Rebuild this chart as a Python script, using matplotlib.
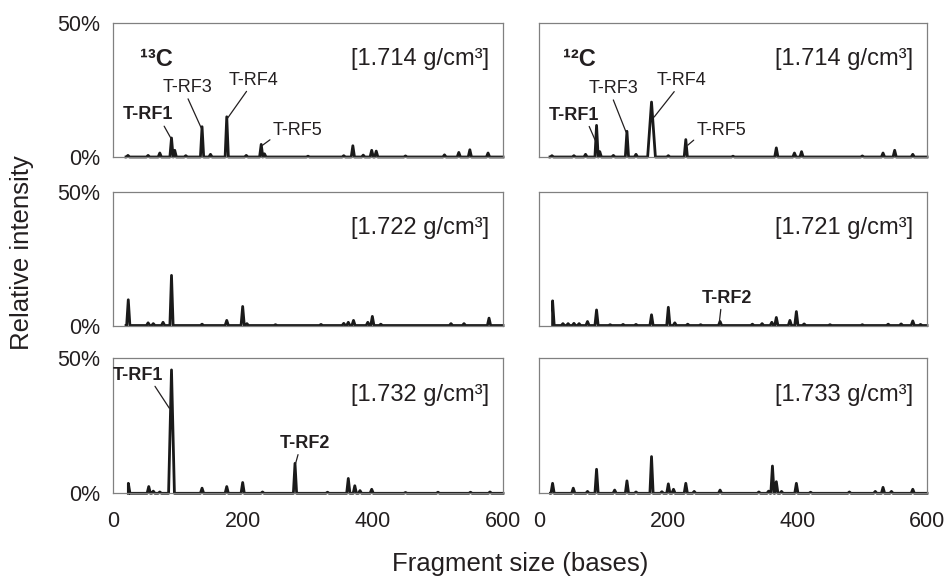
import matplotlib
matplotlib.use('Agg')
import matplotlib.pyplot as plt

plt.rcParams['font.family'] = ['Liberation Sans', 'DejaVu Sans']

# peak sizes (bases) and relative intensities (%)
start_13c_1714 = 20
size_13c_1714 = [23, 54, 72, 90, 95, 112, 137, 150, 175, 205, 228, 233, 300, 355, 369, 385, 398, 405, 450, 510, 532, 549, 577]
int_13c_1714 = [0.6, 0.6, 1.5, 7.1, 2.5, 0.5, 11.3, 1.0, 15.0, 0.6, 4.7, 1.2, 0.3, 0.5, 4.2, 0.7, 2.5, 2.2, 0.4, 0.8, 1.7, 2.7, 1.5]

start_12c_1714 = 17
size_12c_1714 = [20, 54, 72, 89, 94, 115, 136, 150, 174, 200, 227, 300, 367, 395, 406, 500, 532, 550, 578]
int_12c_1714 = [0.5, 0.5, 1.0, 11.8, 2.0, 0.6, 9.6, 1.0, 20.5, 0.5, 6.5, 0.3, 3.4, 1.5, 2.0, 0.4, 1.5, 2.5, 1.0]

start_13c_1722 = 20
size_13c_1722 = [23.5, 54, 62, 77, 90, 137, 175, 199.5, 206, 250, 320, 355, 362, 370, 392, 399, 412, 520, 540, 578.5]
int_13c_1722 = [9.6, 1.0, 0.7, 1.2, 18.7, 0.5, 1.9, 7.1, 0.7, 0.3, 0.4, 0.8, 1.2, 1.9, 1.2, 3.4, 0.5, 0.7, 0.7, 2.75]

start_12c_1721 = 21
size_12c_1721 = [21, 37, 45, 54, 62, 75, 89, 110, 130, 150, 174, 200, 210, 230, 250, 280, 330, 345, 360, 367, 388, 398, 410, 450, 500, 540, 560, 578, 590]
int_12c_1721 = [9.2, 0.7, 0.7, 0.8, 0.7, 1.5, 5.8, 0.3, 0.4, 0.4, 4.0, 6.8, 1.0, 0.5, 0.3, 1.5, 0.5, 0.7, 1.2, 3.0, 1.9, 5.2, 0.6, 0.3, 0.3, 0.5, 0.6, 1.7, 0.4]

start_13c_1732 = 23.6
size_13c_1732 = [23.6, 55, 62, 72, 90, 137, 175, 199.5, 230, 280, 330, 362, 372, 380, 398, 450, 500, 550, 580]
int_13c_1732 = [3.7, 2.5, 0.8, 0.5, 45.7, 1.9, 2.5, 4.0, 0.5, 11.1, 0.4, 5.5, 2.8, 1.0, 1.5, 0.3, 0.4, 0.4, 0.5]

start_12c_1733 = 18
size_12c_1733 = [21, 53, 75, 89, 117, 136, 150, 174, 190, 200, 208, 227, 240, 280, 340, 355, 361, 367, 375, 398, 420, 480, 520, 532, 545, 578]
int_12c_1733 = [3.7, 1.9, 0.7, 8.9, 1.2, 4.6, 0.5, 13.6, 0.6, 3.5, 1.5, 3.7, 0.7, 1.2, 0.5, 0.8, 10.1, 4.3, 0.7, 3.7, 0.4, 0.5, 0.7, 2.2, 0.7, 1.5]

# broader peaks (half width in bases)
wide_peaks = {(174, 20.5): 6, (90, 45.7): 4.5}

densities = ['[1.714 g/cm\u00b3]', '[1.714 g/cm\u00b3]',
             '[1.722 g/cm\u00b3]', '[1.721 g/cm\u00b3]',
             '[1.732 g/cm\u00b3]', '[1.733 g/cm\u00b3]']

panels = [
    (start_13c_1714, size_13c_1714, int_13c_1714),
    (start_12c_1714, size_12c_1714, int_12c_1714),
    (start_13c_1722, size_13c_1722, int_13c_1722),
    (start_12c_1721, size_12c_1721, int_12c_1721),
    (start_13c_1732, size_13c_1732, int_13c_1732),
    (start_12c_1733, size_12c_1733, int_12c_1733),
]

TXT = '#231f20'


def trace(start, sizes, heights, end=600, hw=2.5):
    pts = [(start, 0.0), (end, 0.0)]
    for s, h in zip(sizes, heights):
        w = wide_peaks.get((s, h), hw)
        pts += [(s - w, 0.0), (s, h), (s + w, 0.0)]
    pts = sorted(p for p in pts if p[0] >= start)
    return [p[0] for p in pts], [p[1] for p in pts]


fig = plt.figure(figsize=(9.49, 5.79), dpi=100)
lefts = [113 / 949, 539 / 949]
widths = [390 / 949, 388 / 949]
bottoms = [1 - 157 / 579, 1 - 325.5 / 579, 1 - 493.3 / 579]
heights_ax = [134 / 579, 134 / 579, 135 / 579]

axes = []
for i, (start, sizes, ints) in enumerate(panels):
    r, c = divmod(i, 2)
    ax = fig.add_axes([lefts[c], bottoms[r], widths[c], heights_ax[r]])
    x, y = trace(start, sizes, ints)
    ax.plot(x, y, color='#1a1a1a', lw=2.0, clip_on=False, solid_joinstyle='round')
    ax.set_xlim(0, 600)
    ax.set_ylim(0, 50)
    for sp in ax.spines.values():
        sp.set_color('#808080')
        sp.set_linewidth(0.9)
    ax.tick_params(length=0, labelsize=15.5, colors=TXT)
    ax.tick_params(axis='x', pad=13)
    ax.tick_params(axis='y', pad=9)
    ax.set_xticks([0, 200, 400, 600])
    ax.set_yticks([0, 50])
    if c == 0:
        ax.set_yticklabels(['0%', '50%'])
    else:
        ax.set_yticklabels([])
    if r < 2:
        ax.set_xticklabels([])
    ax.text(0.965, 0.73, densities[i], transform=ax.transAxes, ha='right',
            va='center', fontsize=17, color=TXT)
    axes.append(ax)

axes[0].text(0.07, 0.73, '\u00b9\u00b3C', transform=axes[0].transAxes, ha='left',
             va='center', fontsize=17, fontweight='bold', color=TXT)
axes[1].text(0.061, 0.73, '\u00b9\u00b2C', transform=axes[1].transAxes, ha='left',
             va='center', fontsize=17, fontweight='bold', color=TXT)

arrow = dict(arrowstyle='-', color=TXT, lw=0.9, shrinkA=0, shrinkB=0)


def label(ax, txt, xy, xyt, bold=False, relpos=(0.5, 0.5)):
    ap = dict(arrow, relpos=relpos)
    ax.annotate(txt, xy=xy, xytext=xyt, ha='center', va='center', fontsize=13,
                fontweight='bold' if bold else 'normal', color=TXT, arrowprops=ap)


# 13C 1.714
label(axes[0], 'T-RF1', (90, 6.6), (54, 15.7), bold=True, relpos=(0.75, 0.2))
label(axes[0], 'T-RF3', (136, 10.7), (115, 25.9), relpos=(0.45, 0.2))
label(axes[0], 'T-RF4', (176, 14.4), (216, 28.7), relpos=(0.45, 0.2))
label(axes[0], 'T-RF5', (229, 4.2), (284, 9.8), relpos=(0.1, 0.3))
# 12C 1.714
label(axes[1], 'T-RF1', (87, 6.2), (54, 15.6), bold=True, relpos=(0.75, 0.2))
label(axes[1], 'T-RF3', (134.6, 9.3), (115, 25.5), relpos=(0.45, 0.2))
label(axes[1], 'T-RF4', (178, 14.9), (220.5, 28.6), relpos=(0.45, 0.2))
label(axes[1], 'T-RF5', (230, 4.4), (282, 10.0), relpos=(0.1, 0.3))
# 12C 1.721
label(axes[3], 'T-RF2', (279, 1.5), (290, 10.2), bold=True, relpos=(0.4, 0.2))
# 13C 1.732
label(axes[4], 'T-RF1', (86.7, 31.5), (39, 43.8), bold=True, relpos=(0.75, 0.2))
label(axes[4], 'T-RF2', (281, 11.1), (295, 18.5), bold=True, relpos=(0.4, 0.2))

fig.text(22 / 949, 1 - 253 / 579, 'Relative intensity', rotation=90, ha='center',
         va='center', fontsize=18.5, color=TXT)
fig.text(520 / 949, 1 - 564 / 579, 'Fragment size (bases)', ha='center',
         va='center', fontsize=18.5, color=TXT)

fig.savefig('out.png', dpi=100)
